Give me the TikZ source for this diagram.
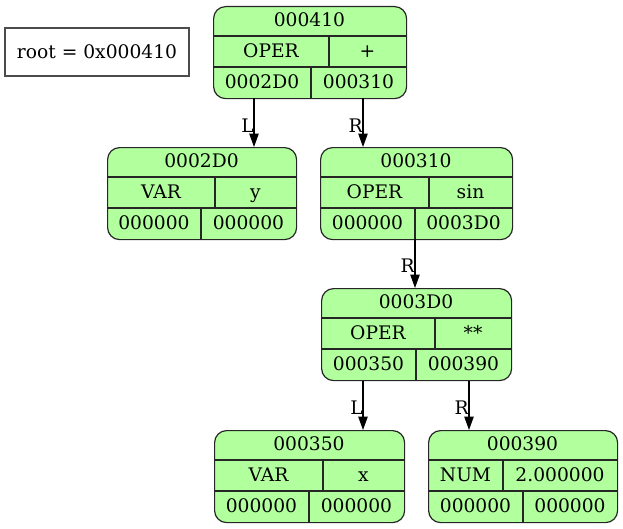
\documentclass[tikz,border=0pt]{standalone}
\usepackage{fontspec}
\setmainfont{DejaVu Serif}
\usetikzlibrary{arrows.meta}
\definecolor{cellfill}{RGB}{178,255,158}
\tikzset{
  x=0.75pt, y=-0.75pt,
  recframe/.style={draw=black!85, fill=cellfill, line width=0.9pt, rounded corners=9pt, inner sep=0pt, anchor=north west},
  recline/.style={draw=black!85, line width=0.9pt},
  celltext/.style={inner sep=0pt, anchor=base, font=\fontsize{14}{16}\selectfont},
  edge/.style={draw=black, line width=0.9pt, -{Triangle[length=10pt,width=7pt]}},
  edgelabel/.style={inner sep=0pt, anchor=base east, font=\fontsize{14}{16}\selectfont},
  rootbox/.style={draw=black!70, line width=0.9pt, inner sep=0pt, minimum width=138pt, minimum height=36pt, font=\fontsize{14}{16}\selectfont}
}
% record frame with its title row: name, left, top, right, title
\newcommand\recbox[5]{%
  \node[recframe, minimum width={(#4-#2)*0.75pt}, minimum height=69pt] (#1) at (#2,#3) {};
  \draw[recline] (#2,#3+30) -- (#4,#3+30);
  \draw[recline] (#2,#3+61) -- (#4,#3+61);
  \node[celltext] (#1-title) at ({(#2+#4)/2},#3+20.5) {#5};
}
% one split row: name, left, right, row top, divider x, left text, right text, tag
\newcommand\recrow[8]{%
  \draw[recline] (#5,#4) -- (#5,#4+31);
  \node[celltext] (#1-#8a) at ({(#2+#5)/2},#4+21) {#6};
  \node[celltext] (#1-#8b) at ({(#5+#3)/2},#4+21) {#7};
}
\begin{document}
\begin{tikzpicture}
  \useasboundingbox (0,0) rectangle (623,528);

  \node[rootbox] (root) at (97,52) {root = 0x000410};

  % 000410
  \recbox{n410}{213}{6}{406}{000410}
  \recrow{n410}{213}{406}{36}{329}{OPER}{+}{k}
  \recrow{n410}{213}{406}{67}{311}{0002D0}{000310}{p}

  % 0002D0
  \recbox{n2d0}{107}{147}{296}{0002D0}
  \recrow{n2d0}{107}{296}{177}{215}{VAR}{y}{k}
  \recrow{n2d0}{107}{296}{208}{201}{000000}{000000}{p}

  % 000310
  \recbox{n310}{320}{147}{512}{000310}
  \recrow{n310}{320}{512}{177}{429}{OPER}{sin}{k}
  \recrow{n310}{320}{512}{208}{415}{000000}{0003D0}{p}

  % 0003D0
  \recbox{n3d0}{321}{288}{511}{0003D0}
  \recrow{n3d0}{321}{511}{318}{435}{OPER}{**}{k}
  \recrow{n3d0}{321}{511}{349}{416}{000350}{000390}{p}

  % 000350
  \recbox{n350}{214}{430}{404}{000350}
  \recrow{n350}{214}{404}{460}{323}{VAR}{x}{k}
  \recrow{n350}{214}{404}{491}{309}{000000}{000000}{p}

  % 000390
  \recbox{n390}{428}{430}{617}{000390}
  \recrow{n390}{428}{617}{460}{503}{NUM}{2.000000}{k}
  \recrow{n390}{428}{617}{491}{523}{000000}{000000}{p}

  % child pointers leave from the bottom of each record
  \coordinate (n410L) at (254,98);
  \coordinate (n410R) at (363,98);
  \coordinate (n310R) at (415,239);
  \coordinate (n3d0L) at (363,381);
  \coordinate (n3d0R) at (469,381);

  \draw[edge] (n410L) -- (n410L |- n2d0.north);
  \draw[edge] (n410R) -- (n410R |- n310.north);
  \draw[edge] (n310R) -- (n310R |- n3d0.north);
  \draw[edge] (n3d0L) -- (n3d0L |- n350.north);
  \draw[edge] (n3d0R) -- (n3d0R |- n390.north);

  \node[edgelabel] (lab410L) at (254,132) {L};
  \node[edgelabel] (lab410R) at (363,132) {R};
  \node[edgelabel] (lab310R) at (415,272) {R};
  \node[edgelabel] (lab3d0L) at (363,414) {L};
  \node[edgelabel] (lab3d0R) at (469,414) {R};
\end{tikzpicture}
\end{document}
